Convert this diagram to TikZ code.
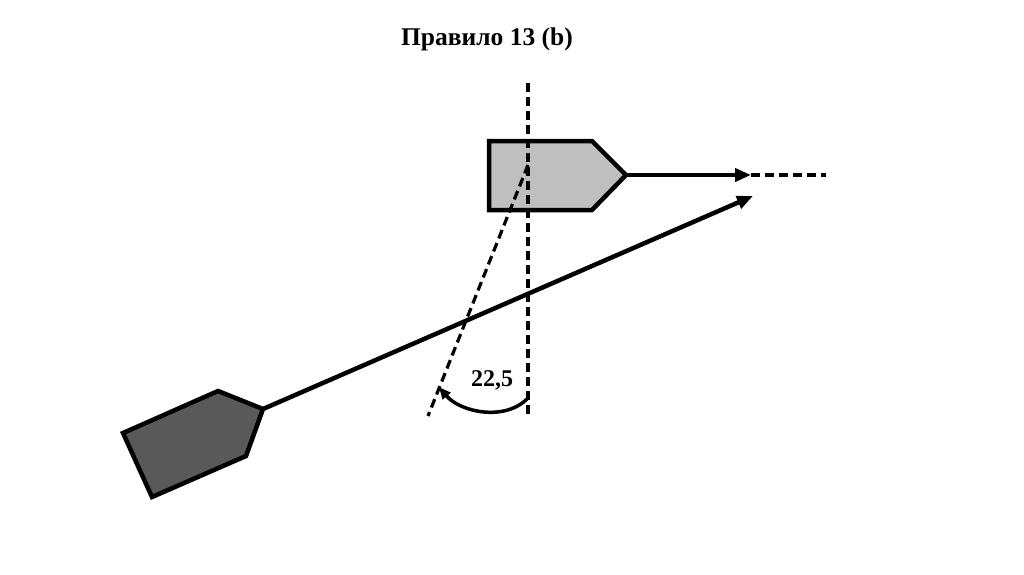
\documentclass[tikz,border=0pt]{standalone}
\usepackage{fontspec}
\setmainfont{Liberation Serif}
\usetikzlibrary{arrows.meta}
\begin{document}
\begin{tikzpicture}[x=1pt,y=-1pt,
  hull/.style={draw=black,line width=4.5pt,line join=miter},
  course/.style={line width=4.5pt,-{Triangle[length=16pt,width=13pt]}},
  guide/.style={line width=3.2pt,dash pattern=on 9pt off 5pt},
  lbl/.style={font=\bfseries\fontsize{24}{28}\selectfont,inner sep=0pt}]
\useasboundingbox (0,0) rectangle (1024,574);
% title
\node[font=\bfseries\fontsize{25.5}{30}\selectfont,inner sep=0pt] (title) at (487,39) {Правило 13 (b)};
% key coordinates
\coordinate (vtop) at (528,83);
\coordinate (vbot) at (528,418);
\coordinate (pivot) at (528,165);
\coordinate (sbot) at (428,416);
\coordinate (bow1) at (626,175);
\coordinate (tip1) at (751,175);
\coordinate (dashend) at (826,175);
\coordinate (bow2) at (263,409);
\coordinate (tip2) at (753,196);
% grey vessel
\filldraw[hull,fill=black!25] (489,141) -- (592,141) -- (bow1) -- (592,210) -- (489,210) -- cycle;
% dark vessel
\filldraw[hull,fill=black!65] (123,433) -- (218,391) -- (bow2) -- (246,456) -- (152,497) -- cycle;
% guide lines
\draw[guide] (vtop) -- (vbot);
\draw[guide] (pivot) -- (sbot);
\draw[guide] (tip1) -- (dashend);
% courses
\draw[course] (bow1) -- (tip1);
\draw[course] (bow2) -- (tip2);
% angle
\coordinate (a1) at (528,398);
\coordinate (a2) at (439,387);
\draw[line width=3.5pt,-{Triangle[length=12pt,width=10pt]}] (a1) .. controls (505,422) and (460,412) .. (a2);
\node[lbl] (ang) at (492,380) {22,5};
\end{tikzpicture}
\end{document}
